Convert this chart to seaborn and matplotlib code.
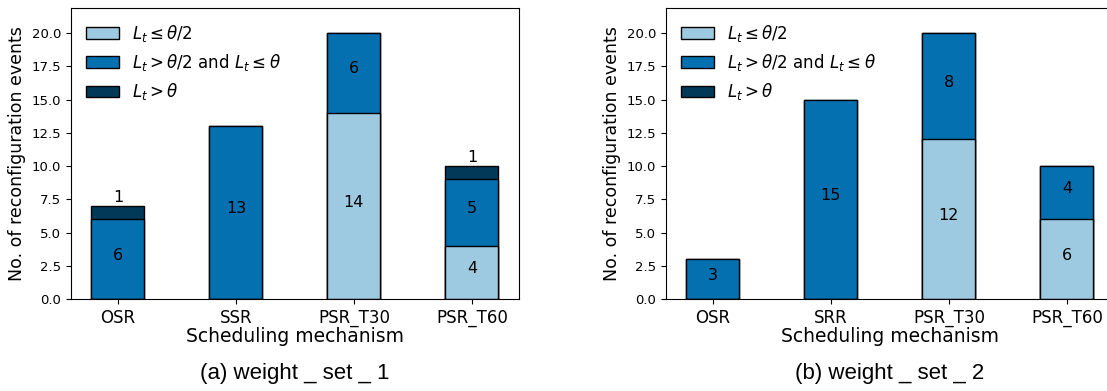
import matplotlib
matplotlib.use("Agg")
import matplotlib.pyplot as plt
from matplotlib.patches import Patch
import numpy as np
import pandas as pd
import seaborn as sns

# data
mech_1 = ["OSR", "SSR", "PSR_T30", "PSR_T60"]
mech_2 = ["OSR", "SRR", "PSR_T30", "PSR_T60"]
low_1 = [0, 0, 14, 4]      # L_t <= theta/2
mid_1 = [6, 13, 6, 5]      # theta/2 < L_t <= theta
high_1 = [1, 0, 0, 1]      # L_t > theta
low_2 = [0, 0, 12, 6]
mid_2 = [3, 15, 8, 4]
high_2 = [0, 0, 0, 0]
panel_titles = ["(a) weight _ set _ 1", "(b) weight _ set _ 2"]
legend_labels = [r"$L_t \leq \theta/2$",
                 r"$L_t > \theta/2$ and $L_t \leq \theta$",
                 r"$L_t > \theta$"]

colors = ["#9ecae1", "#0570b0", "#023858"]

# keep matplotlib's classic look (black text, full frame)
plt.rcParams["font.family"] = ["DejaVu Sans"]
plt.rcParams["mathtext.fontset"] = "dejavusans"


def draw_panel(ax, mech, low, mid, high):
    df = pd.DataFrame({"mech": mech, "low": low, "mid": mid, "high": high})
    df["lm"] = df["low"] + df["mid"]
    df["total"] = df["lm"] + df["high"]
    # stack by overdrawing cumulative sums, tallest first
    for col, c in zip(["total", "lm", "low"], colors[::-1]):
        sns.barplot(data=df, x="mech", y=col, color=c, width=0.45,
                    edgecolor="black", linewidth=1, saturation=1, ax=ax)
    # segment labels
    for i, row in df.iterrows():
        if row["low"] > 0:
            ax.text(i, row["low"] / 2 + 0.3, str(row["low"]), ha="center",
                    va="center", fontsize=11.5)
        if row["mid"] > 0:
            ax.text(i, row["low"] + row["mid"] / 2 + 0.3, str(row["mid"]),
                    ha="center", va="center", fontsize=11.5)
        if row["high"] > 0:
            ax.text(i, row["total"] + 0.05, str(row["high"]), ha="center",
                    va="bottom", fontsize=11.5)
    ax.set_xlim(-0.4, 3.4)
    ax.set_ylim(0, 21.9)
    ax.set_yticks(np.arange(0, 20.1, 2.5))
    ax.set_yticklabels([f"{v:.1f}" for v in np.arange(0, 20.1, 2.5)])
    ax.tick_params(axis="y", labelsize=9.5)
    ax.tick_params(axis="x", labelsize=12)
    ax.set_xlabel("Scheduling mechanism", fontsize=13.5, labelpad=0)
    ax.set_ylabel("No. of reconfiguration events", fontsize=12.5)
    handles = [Patch(facecolor=c, edgecolor="black", linewidth=1) for c in colors]
    ax.legend(handles, legend_labels, loc="upper left", frameon=False, fontsize=12)


fig = plt.figure(figsize=(11.07, 3.91), dpi=100)
ax1 = fig.add_axes([0.0639, 0.2345, 0.405, 0.746])
ax2 = fig.add_axes([0.6014, 0.2345, 0.405, 0.746])
draw_panel(ax1, mech_1, low_1, mid_1, high_1)
draw_panel(ax2, mech_2, low_2, mid_2, high_2)

fig.text(0.2666, 0.046, panel_titles[0], ha="center", va="center",
         fontsize=16, family="Liberation Sans")
fig.text(0.8038, 0.046, panel_titles[1], ha="center", va="center",
         fontsize=16, family="Liberation Sans")

fig.savefig("out.png", dpi=100)
